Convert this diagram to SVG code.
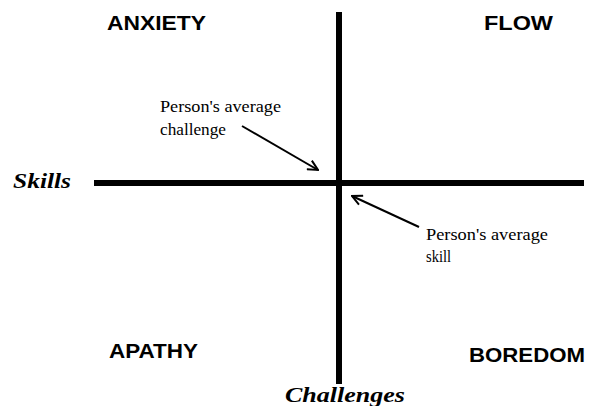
<svg xmlns="http://www.w3.org/2000/svg" width="589" height="406" viewBox="0 0 589 406">
<style>
.quad{font-family:"Liberation Sans",Arial,sans-serif;font-weight:bold;font-size:21px;fill:#000}
.axis-label{font-family:"Liberation Serif","Times New Roman",serif;font-weight:bold;font-style:italic;font-size:22px;fill:#000}
.note{font-family:"Liberation Serif","Times New Roman",serif;font-size:17px;fill:#000}
.axis{stroke:#000;stroke-width:6;fill:none}
.arrow{stroke:#000;stroke-width:2;fill:none}
</style>
<defs>
<marker id="ah" viewBox="0 0 12 12" refX="11" refY="6" markerWidth="12" markerHeight="12" markerUnits="userSpaceOnUse" orient="auto">
<polyline points="1,1 11,6 1,11" fill="none" stroke="#000" stroke-width="2"/>
</marker>
</defs>
<rect width="589" height="406" fill="#fff"/>
<g id="connectors">
<line class="axis" x1="94" y1="183" x2="584" y2="183"/>
<line class="axis" x1="339" y1="12" x2="339" y2="384"/>
<line class="arrow" x1="242" y1="126" x2="318" y2="170" marker-end="url(#ah)"/>
<line class="arrow" x1="419" y1="227" x2="352" y2="196" marker-end="url(#ah)"/>
</g>
<g id="anxiety"><text class="quad" x="107" y="30" textLength="99" lengthAdjust="spacingAndGlyphs">ANXIETY</text></g>
<g id="flow"><text class="quad" x="484" y="30" textLength="69" lengthAdjust="spacingAndGlyphs">FLOW</text></g>
<g id="apathy"><text class="quad" x="109" y="358" textLength="89" lengthAdjust="spacingAndGlyphs">APATHY</text></g>
<g id="boredom"><text class="quad" x="469" y="362" textLength="116" lengthAdjust="spacingAndGlyphs">BOREDOM</text></g>
<g id="skills"><text class="axis-label" x="13" y="188" textLength="58" lengthAdjust="spacingAndGlyphs">Skills</text></g>
<g id="challenges"><text class="axis-label" x="285" y="402" textLength="120" lengthAdjust="spacingAndGlyphs">Challenges</text></g>
<g id="avg-challenge">
<text class="note" x="160" y="112" textLength="121" lengthAdjust="spacingAndGlyphs">Person's average</text>
<text class="note" x="160" y="135" textLength="66" lengthAdjust="spacingAndGlyphs">challenge</text>
</g>
<g id="avg-skill">
<text class="note" x="426" y="240" textLength="122" lengthAdjust="spacingAndGlyphs">Person's average</text>
<text class="note" x="426" y="262" textLength="25" lengthAdjust="spacingAndGlyphs">skill</text>
</g>
</svg>
